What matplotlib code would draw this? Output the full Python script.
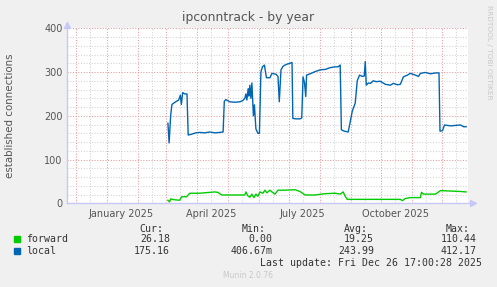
import numpy as np
import matplotlib
matplotlib.use("Agg")
import matplotlib.pyplot as plt
import matplotlib.dates as mdates
from matplotlib.patches import Rectangle
from datetime import datetime

# days after 2025-01-01
local_days = [60.6, 61.8, 63.3, 64.6, 68.3, 71.3, 73, 74, 75.3, 77.3, 79.6, 80.8,
              84.3, 88.3, 92.3, 97.3, 102.3, 107.3, 112.3, 115.6, 116.8, 118.3,
              122.3, 127.3, 132.3, 135.3, 137.3, 138.3, 139.3, 140.6, 141.3, 142.3,
              143.3, 144.3, 145.8, 146.8, 148.3, 150.3, 151.8, 153.3, 154.8, 156.8,
              158.8, 162.3, 164.3, 168.3, 170.3, 171.6, 173.3, 175.3, 177.3, 179.3,
              182.3, 184.3, 185.1, 188.3, 192.3, 194, 195.3, 196.8, 198, 198.8,
              202.3, 207.3, 212.3, 217.3, 222.3, 227.3, 230.3, 232.3, 233.5, 236.3,
              240.3, 242.3, 244.3, 247.3, 249.3, 251.6, 254.3, 256.3, 257.3, 258.3,
              260.3, 262.3, 265.3, 268.3, 272.3, 277.3, 282.3, 285.3, 289.3, 292.3,
              295.3, 299.3, 302.3, 307.3, 310.3, 312.3, 317.3, 322.3, 327.3, 330.8,
              331.8, 334.3, 336.3, 342.3, 347.3, 352.3, 355.3, 357.8]
local_vals = [183, 138, 200, 226, 232, 236, 247, 226, 253, 250, 250, 156,
              158, 161, 162, 161, 163, 161, 162, 163, 233, 237,
              232, 231, 232, 235, 240, 250, 236, 262, 245, 270,
              240, 275, 200, 225, 170, 160, 160, 300, 312, 316,
              287, 287, 297, 295, 290, 232, 305, 313, 316, 318,
              320, 322, 194, 193, 193, 195, 289, 275, 244, 293,
              296, 301, 305, 306, 310, 312, 312, 316, 168, 165,
              163, 186, 210, 229, 280, 293, 290, 291, 324, 270,
              275, 274, 280, 278, 279, 272, 270, 274, 271, 272,
              289, 293, 297, 293, 290, 297, 299, 296, 298, 298,
              165, 166, 179, 177, 178, 179, 175, 175]

forward_days = [60.6, 62.3, 63.3, 67.3, 72.3, 74.3, 79.3, 82.3, 92.3, 97.3, 102.3,
                107.3, 110.3, 114.3, 122.3, 137.3, 138.3, 140.3, 142.3, 144.3, 146.3,
                148.3, 150.3, 152.3, 155.3, 157.3, 159.3, 162.3, 164.3, 167.3, 170.3,
                177.3, 187.3, 192.3, 197.3, 207.3, 217.3, 227.3, 232.3, 235.3, 237.3,
                239.3, 257.3, 292.3, 294.3, 297.3, 302.3, 312.3, 313.3, 315.3, 327.3,
                332.3, 342.3, 352.3, 357.8]
forward_vals = [7, 3, 10, 8, 7, 15, 15, 23, 23, 24, 25,
                26, 25, 19, 19, 19, 26, 17, 14, 21, 13,
                21, 16, 26, 23, 30, 24, 30, 26, 21, 30,
                30, 31, 27, 19, 19, 22, 23, 21, 26, 16,
                9, 9, 9, 6, 11, 13, 13, 25, 21, 21,
                29, 28, 27, 26]

month_labels = {1: "January", 4: "April", 7: "July", 10: "October"}
legend_rows = [("forward", "#00CC00", ["26.18", "0.00", "19.25", "110.44"]),
               ("local", "#0066B3", ["175.16", "406.67m", "243.99", "412.17"])]
headers = ["Cur:", "Min:", "Avg:", "Max:"]

W, H = 497, 287
fig = plt.figure(figsize=(W / 100, H / 100), dpi=100, facecolor="#F0F0F0")
ax = fig.add_axes([66.7 / W, 1 - 203.3 / H, (468 - 66.7) / W, 175 / H])
ax.set_facecolor("white")

base = mdates.date2num(datetime(2025, 1, 1))
ax.plot(base + np.array(forward_days), forward_vals, color="#00CC00", lw=1.0)
ax.plot(base + np.array(local_days), local_vals, color="#0066B3", lw=1.0)

ax.set_xlim(mdates.date2num(datetime(2024, 11, 21, 17)), mdates.date2num(datetime(2025, 12, 26, 17)))
ax.set_ylim(0, 400)

ax.xaxis.set_major_locator(mdates.MonthLocator(bymonthday=1))
ax.xaxis.set_minor_locator(mdates.MonthLocator(bymonthday=15))
ax.xaxis.set_major_formatter(plt.NullFormatter())

def fmt_month(x, pos):
    d = mdates.num2date(x)
    return f"{month_labels[d.month]} {d.year}" if d.month in month_labels else ""

ax.xaxis.set_minor_formatter(plt.FuncFormatter(fmt_month))
ax.yaxis.set_major_locator(plt.MultipleLocator(100))
ax.yaxis.set_minor_locator(plt.MultipleLocator(20))

ax.grid(which="minor", color="#d2d2d2", ls=(0, (1, 1.6)), lw=0.75)
ax.grid(which="major", color="#e89a9a", ls=(0, (1, 1.6)), lw=0.75)
ax.set_axisbelow(True)
ax.tick_params(which="both", length=0, labelsize=7, colors="#555555", pad=3)
ax.tick_params(axis="x", which="minor", pad=4)
for s in ax.spines.values():
    s.set_visible(False)

axc = "#c8c8f8"
ax.plot([0, 1.012], [0, 0], transform=ax.transAxes, color=axc, lw=1, clip_on=False)
ax.plot([0, 0], [0, 1.02], transform=ax.transAxes, color=axc, lw=1, clip_on=False)
ax.plot([1.012], [0], transform=ax.transAxes, marker=">", ms=5, color=axc, clip_on=False)
ax.plot([0], [1.02], transform=ax.transAxes, marker="^", ms=5, color=axc, clip_on=False)

def ftxt(x, y, s, **kw):
    fig.text(x / W, 1 - y / H, s, **kw)

ftxt(248, 18, "ipconntrack - by year", ha="center", va="center", fontsize=8.9, color="#555555")
ftxt(10, 116, "established connections", ha="center", va="center", rotation=90,
     fontsize=7.4, color="#555555")
ftxt(489, 5, "RRDTOOL / TOBI OETIKER", ha="center", va="top", rotation=270,
     fontsize=5.3, color="#c8c8c8")

mono = dict(family="DejaVu Sans Mono", fontsize=7.1, color="#333333", va="center")
header_x = [163, 265.7, 367.7, 470]
value_x = [170, 272.3, 374, 476.7]
for hx, h in zip(header_x, headers):
    ftxt(hx, 228.5, h, ha="right", **mono)
for i, (name, col, vals) in enumerate(legend_rows):
    y = 239 + i * 12
    fig.patches.append(Rectangle((14 / W, 1 - (y + 3) / H), 6 / W, 6 / H,
                                 transform=fig.transFigure, color=col))
    ftxt(26.5, y, name, ha="left", **mono)
    for vx, v in zip(value_x, vals):
        ftxt(vx, y, v, ha="right", **mono)
ftxt(482.5, 263.5, "Last update: Fri Dec 26 17:00:28 2025", ha="right", **mono)
ftxt(248, 276, "Munin 2.0.76", ha="center", va="center", fontsize=5.5, color="#c8c8c8")

fig.savefig("out.png", dpi=100, facecolor=fig.get_facecolor())
